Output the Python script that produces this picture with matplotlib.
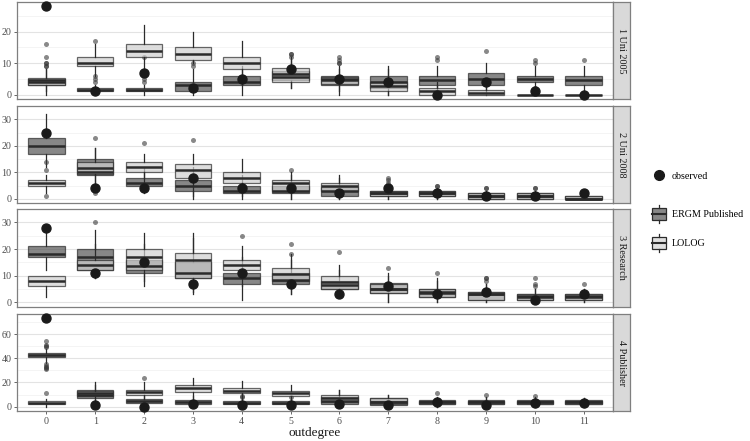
import matplotlib.pyplot as plt
from matplotlib.legend_handler import HandlerBase
from matplotlib.patches import Rectangle, Patch
from matplotlib.lines import Line2D

plt.rcParams['font.family'] = ['Liberation Serif', 'DejaVu Serif']

outdegree = list(range(12))
panels = ['1 Uni 2005', '2 Uni 2008', '3 Research', '4 Publisher']
yticks = [[0, 10, 20], [0, 10, 20, 30], [0, 10, 20, 30], [0, 20, 40, 60]]

# ERGM Published box stats, one row per panel, one entry per outdegree
ergm_lo = [[0, 0, 0, 0, 0, 2, 0, 0, 0, 0, 2, 0],
           [12, 3, 2, 0, 0, 0, 0, 0, 0, 0, 0, 0],
           [12, 9, 6, 3, 1, 3, 2, 0, 0, 0, 0, 0],
           [36, 3, 0, 0, 0, 0, 0, 0, 0, 0, 0, 0]]
ergm_q1 = [[3, 1, 1, 1, 3, 4.5, 3, 2, 3, 3, 4, 3],
           [17, 9, 5, 3, 2, 2, 1, 1, 1, 0, 0, 0],
           [17, 12, 11, 9, 7, 7, 5, 3.7, 2, 1, 1, 1],
           [41, 7, 3, 2, 2, 2, 2, 1.5, 2, 2, 2, 2]]
ergm_med = [[4, 1.5, 1.5, 3, 4, 5.5, 4.5, 4, 4.5, 5, 5, 4.5],
            [20, 10, 6, 5, 3, 3, 3, 2, 2, 1, 1, 0],
            [18, 17, 13.5, 11, 9, 8.5, 6.7, 5, 3.7, 3, 2.5, 2.5],
            [42.5, 10, 4.6, 3.8, 3.3, 3.3, 5, 4, 3.8, 3.8, 3.8, 3.8]]
ergm_q3 = [[5, 2, 2, 4, 6, 7.5, 6, 6, 6, 7, 6, 6],
           [23, 15, 8, 7, 5, 5, 4.5, 3, 3, 2, 2, 1],
           [21, 20, 16, 15, 11, 11, 8, 7.3, 5.2, 4, 3.3, 3],
           [44.5, 14, 6.5, 5.4, 4.6, 4.6, 8, 7, 5.4, 5.4, 5.4, 5.4]]
ergm_hi = [[8, 3, 3, 8, 9, 11, 9, 9, 9, 10, 9, 9],
           [32, 19, 12, 12, 9, 9, 8, 5, 4, 3, 3, 2],
           [26, 27, 22, 24, 17, 16, 12, 11, 9, 7, 5, 5],
           [48, 20, 10, 9, 7, 7, 14, 10, 8, 8, 8, 7]]
ergm_out = [[[9, 10, 12, 16], [4, 5, 6], [4, 5, 12], [9, 10], [], [12, 13], [10, 11], [], [11, 12], [14], [10, 11], [11]],
            [[], [23], [], [], [], [11], [], [6, 7, 8], [5], [4], [4], []],
            [[], [30], [], [], [], [18], [19], [13], [11], [8, 9], [7, 9], [7]],
            [[31, 32, 33, 34, 35, 49, 50, 51, 54], [], [], [], [8, 9], [8], [], [], [11], [10], [9], []]]

# LOLOG box stats
lolog_lo = [[1, 6, 8, 10, 3, 2, 1, 0, 0, 0, 0, 0],
            [2, 5, 5, 1, 1, 0, 0, 0, 0, 0, 0, 0],
            [2, 9, 8, 4, 6, 3, 2, 0, 0, 0, 0, 0],
            [0, 4, 6, 7, 6, 5, 0, 0, 0, 0, 0, 0]]
lolog_q1 = [[3, 9, 12, 11, 8, 4, 3.5, 1, 0, 0, 0, 0],
            [5, 9.5, 10, 8, 6, 3, 3, 1, 1, 0, 0, 0],
            [6, 12, 12, 9, 12, 8, 5, 3.7, 2, 1, 1, 1],
            [2, 9, 10, 12, 11, 9, 4, 2, 2, 2, 2, 2]]
lolog_med = [[4.5, 10, 14, 13, 10, 6.5, 5, 2.7, 1, 0.5, 0, 0],
             [6, 11.5, 12, 11, 8, 6, 5, 2, 2, 1, 1, 0],
             [8, 14, 17, 16, 14, 10.5, 7.5, 5, 4, 3, 2, 2],
             [3, 11, 12, 15, 13.3, 11.4, 7, 4, 3.8, 3.8, 3.8, 3.8]]
lolog_q3 = [[5.3, 12, 16, 15, 12, 8.3, 5.7, 4, 2, 1.5, 0, 0],
            [7, 14, 14, 13, 10, 7, 6, 3, 3, 2, 2, 1],
            [10, 16, 20, 18.5, 16, 13, 10, 7, 5, 4, 3.3, 3],
            [4.3, 13, 14, 17.5, 15.5, 13.3, 10, 7, 5, 5, 5, 5]]
lolog_hi = [[8, 16, 22, 20, 17, 12, 8, 8, 4, 3, 0, 0],
            [9, 19, 17, 17, 15, 10, 9, 5, 4, 3, 3, 2],
            [10, 22, 26, 26, 21, 18, 14, 10, 8, 7, 5, 5],
            [6, 18, 20, 24, 21, 18, 14, 10, 7, 7, 7, 7]]
lolog_out = [[[9, 10], [17], [], [], [], [13], [10, 12], [], [], [], [1, 2], []],
             [[1, 11, 14], [2], [21], [22], [], [], [], [], [5], [4], [4], []],
             [[], [], [], [], [25], [22], [], [], [], [9], [6], []],
             [[11], [], [24], [], [], [], [], [], [], [], [], []]]

observed = [[28, 1, 7, 2, 5, 8, 5, 4, 0, 4, 1, 0],
            [25, 4, 4, 8, 4, 4, 2, 4, 2, 1, 1, 2],
            [28, 11, 15, 7, 11, 7, 3, 6, 3, 4, 1, 3],
            [73, 1, 0, 2, 1, 1, 2, 1, 4, 1, 3, 3]]

ERGM_COL = '#555555'
LOLOG_COL = '#cfcfcf'
EDGE = '#2b2b2b'


def stats_for(lo, q1, med, q3, hi, out):
    return [dict(whislo=lo[i], q1=q1[i], med=med[i], q3=q3[i], whishi=hi[i], fliers=out[i])
            for i in range(len(med))]


def draw_boxes(ax, st, col):
    ax.bxp(st, positions=outdegree, widths=0.75, patch_artist=True, showcaps=False,
           boxprops=dict(facecolor=col, edgecolor=EDGE, linewidth=0.9, alpha=0.7),
           whiskerprops=dict(color=EDGE, linewidth=0.9),
           medianprops=dict(color=EDGE, linewidth=1.8),
           flierprops=dict(marker='o', markersize=3.6, markerfacecolor='#3a3a3a',
                           markeredgecolor='none', alpha=0.6))


class BoxKey(HandlerBase):
    def create_artists(self, legend, orig_handle, xdescent, ydescent, width, height, fontsize, trans):
        x0, y0 = -xdescent, -ydescent
        cx = x0 + width / 2
        bw = width * 0.9
        box = Rectangle((cx - bw / 2, y0 + height * 0.15), bw, height * 0.7,
                        facecolor=orig_handle.get_facecolor(), edgecolor=EDGE, linewidth=0.9,
                        transform=trans)
        med = Line2D([cx - bw / 2, cx + bw / 2], [y0 + height / 2] * 2, color=EDGE, lw=1.5, transform=trans)
        w1 = Line2D([cx, cx], [y0, y0 + height * 0.15], color=EDGE, lw=0.9, transform=trans)
        w2 = Line2D([cx, cx], [y0 + height * 0.85, y0 + height], color=EDGE, lw=0.9, transform=trans)
        return [box, med, w1, w2]


fig = plt.figure(figsize=(7.5, 4.41), dpi=100)
W, H = 750.0, 441.0
panel_rows = [(2, 99), (106, 203), (209, 306.5), (314, 411)]
left, right, strip_r = 17, 613, 630

for k in range(4):
    top, bot = panel_rows[k]
    ax = fig.add_axes([left / W, 1 - bot / H, (right - left) / W, (bot - top) / H])
    ax.set_facecolor('white')
    ax.set_axisbelow(True)
    draw_boxes(ax, stats_for(ergm_lo[k], ergm_q1[k], ergm_med[k], ergm_q3[k], ergm_hi[k], ergm_out[k]), ERGM_COL)
    draw_boxes(ax, stats_for(lolog_lo[k], lolog_q1[k], lolog_med[k], lolog_q3[k], lolog_hi[k], lolog_out[k]), LOLOG_COL)
    ax.scatter(outdegree, observed[k], s=42, color='#1a1a1a', zorder=5, clip_on=False)

    vals = observed[k] + ergm_hi[k] + lolog_hi[k] + [v for o in ergm_out[k] + lolog_out[k] for v in o]
    vmax = max(vals)
    ax.set_xlim(-0.6, 11.6)
    ax.set_ylim(-0.05 * vmax, vmax * 1.05)
    ax.set_yticks(yticks[k])
    step = yticks[k][1] - yticks[k][0]
    ax.set_yticks([t + step / 2 for t in yticks[k]], minor=True)
    ax.grid(axis='y', which='major', color='#e3e3e3', linewidth=0.8)
    ax.grid(axis='y', which='minor', color='#f0f0f0', linewidth=0.5)
    ax.tick_params(axis='y', which='minor', length=0)
    ax.tick_params(axis='both', labelsize=7.2, colors='#4d4d4d', length=2.5, width=0.6, pad=1.5)
    ax.set_xticks(outdegree)
    if k < 3:
        ax.set_xticklabels([])
        ax.tick_params(axis='x', length=0)
    else:
        ax.set_xticklabels([str(d) for d in outdegree])
        ax.set_xlabel('outdegree', fontsize=9.5, color='#1a1a1a', labelpad=1)
    for s in ax.spines.values():
        s.set_color('#7f7f7f')
        s.set_linewidth(0.9)

    sax = fig.add_axes([right / W, 1 - bot / H, (strip_r - right) / W, (bot - top) / H])
    sax.set_facecolor('#d9d9d9')
    sax.set_xticks([])
    sax.set_yticks([])
    for s in sax.spines.values():
        s.set_color('#7f7f7f')
        s.set_linewidth(0.9)
    sax.text(0.5, 0.5, panels[k], rotation=270, ha='center', va='center', fontsize=7.3,
             color='#1a1a1a', transform=sax.transAxes)

obs_handle = Line2D([], [], marker='o', linestyle='none', markersize=7, color='#1a1a1a')
fig.legend([obs_handle], ['observed'], loc='center left', bbox_to_anchor=(642 / W, 1 - 176 / H),
           frameon=False, fontsize=7.2, handlelength=1.6, handletextpad=0.5)
h_ergm = Patch(facecolor='#888888')
h_lolog = Patch(facecolor='#e0e0e0')
fig.legend([h_ergm, h_lolog], ['ERGM Published', 'LOLOG'], loc='center left',
           bbox_to_anchor=(642 / W, 1 - 228.5 / H), frameon=False, fontsize=7.2,
           handlelength=1.6, handleheight=2.4, handletextpad=0.5, labelspacing=1.1,
           handler_map={Patch: BoxKey()})

fig.savefig('out.png', dpi=100)
